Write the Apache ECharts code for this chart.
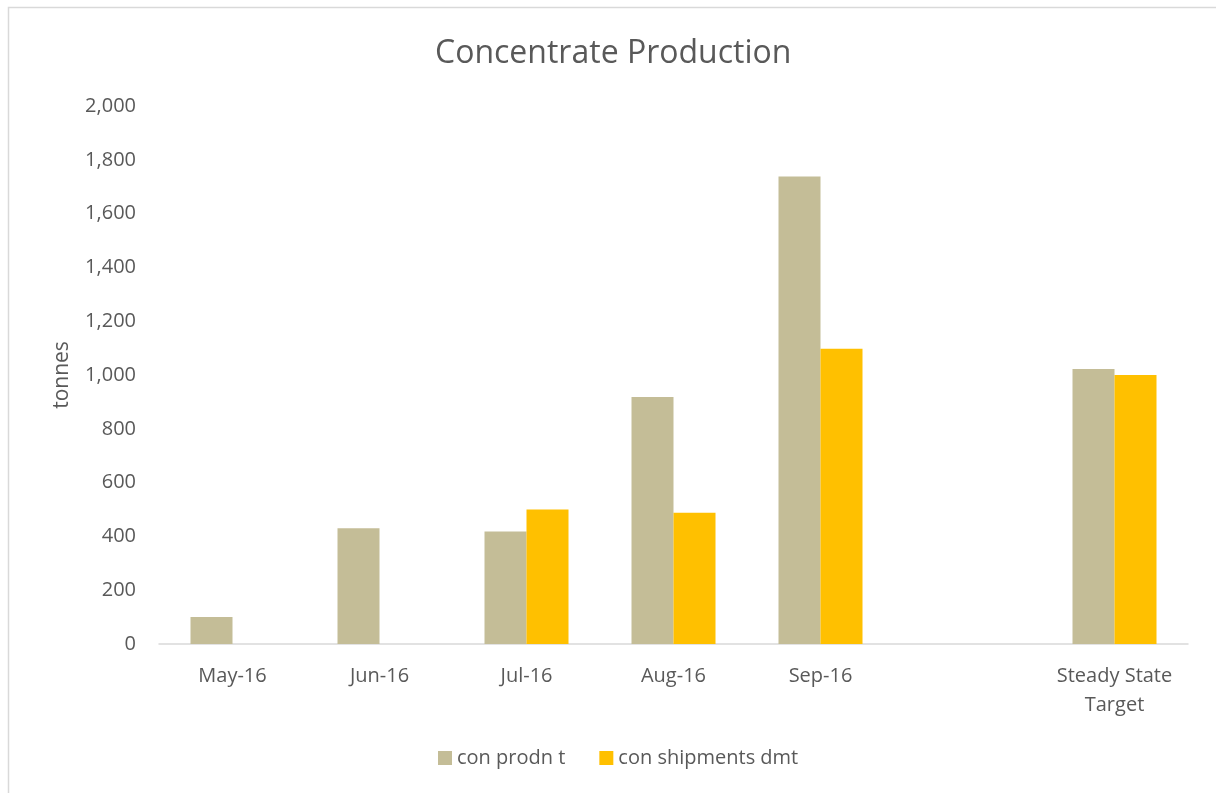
<!DOCTYPE html>
<html>
<head>
<meta charset="utf-8">
<script src="https://cdn.jsdelivr.net/npm/echarts@6/dist/echarts.min.js"></script>
<style>
html,body{margin:0;padding:0;background:#fff;}
#chart{width:1216px;height:793px;}
</style>
</head>
<body>
<div id="chart"></div>
<script>
var categories = ['May-16', 'Jun-16', 'Jul-16', 'Aug-16', 'Sep-16', '', 'Steady State\nTarget'];
var conProdn = [100, 430, 418, 918, 1738, null, 1022];
var conShipments = [null, null, 500, 488, 1098, null, 1000];
var seriesNames = ['con prodn t', 'con shipments dmt'];

var FONT = '"Open Sans", "Noto Sans", sans-serif';
var TXT = '#595959';

var chart = echarts.init(document.getElementById('chart'));
chart.setOption({
  animation: false,
  textStyle: { fontFamily: FONT, color: TXT },
  graphic: [{
    type: 'rect',
    shape: { x: 8.5, y: 7.5, width: 1400, height: 1000 },
    style: { fill: 'none', stroke: '#d9d9d9', lineWidth: 1.5 },
    silent: true
  }],
  title: {
    text: 'Concentrate Production',
    left: 430,
    top: 33,
    textStyle: { fontFamily: FONT, fontSize: 32, fontWeight: 'normal', color: TXT }
  },
  legend: {
    data: seriesNames,
    left: 433,
    top: 743,
    itemWidth: 14,
    itemHeight: 14,
    itemGap: 34,
    icon: 'rect',
    textStyle: { fontFamily: FONT, fontSize: 20, color: TXT, padding: [0, 0, 0, 0] }
  },
  grid: { left: 159, right: 28, top: 106, bottom: 149, containLabel: false },
  xAxis: {
    type: 'category',
    data: categories,
    axisLine: { lineStyle: { color: '#d9d9d9', width: 1.5 } },
    axisTick: { show: false },
    axisLabel: { fontFamily: FONT, fontSize: 20, color: TXT, margin: 18, lineHeight: 29, interval: 0 },
    splitLine: { show: false }
  },
  yAxis: {
    type: 'value',
    min: 0,
    max: 2000,
    interval: 200,
    name: 'tonnes',
    nameLocation: 'middle',
    nameGap: 86,
    nameRotate: 90,
    nameTextStyle: { fontFamily: FONT, fontSize: 21, color: TXT },
    axisLine: { show: false },
    axisTick: { show: false },
    splitLine: { show: false },
    axisLabel: {
      fontFamily: FONT, fontSize: 20, color: TXT, margin: 23,
      formatter: function (v) { return v.toLocaleString('en-US'); }
    }
  },
  series: [
    {
      name: seriesNames[0],
      type: 'bar',
      data: conProdn,
      barWidth: 42,
      barGap: '0%',
      itemStyle: { color: '#C4BD97' }
    },
    {
      name: seriesNames[1],
      type: 'bar',
      data: conShipments,
      barWidth: 42,
      barGap: '0%',
      itemStyle: { color: '#FFC000' }
    }
  ]
});
</script>
</body>
</html>
